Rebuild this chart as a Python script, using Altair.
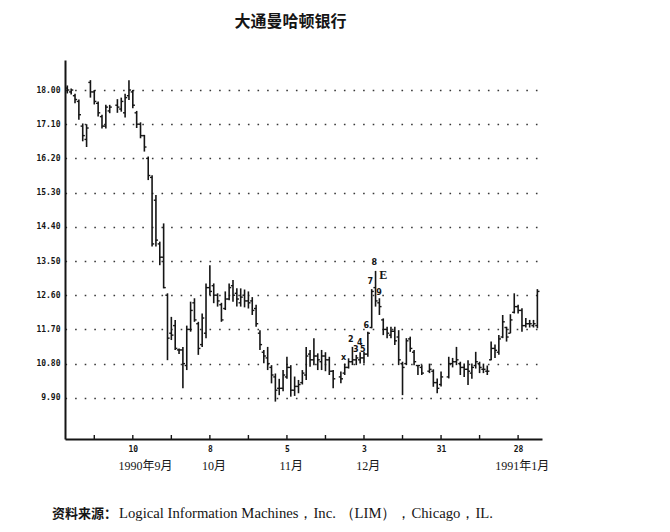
import altair as alt
import pandas as pd

# ---- data (trading-day index; 0 = 27 Aug 1990, ticks every 10 trading days) ----
day = [-7, -6, -5, -4, -3, -2, -1, 0, 1, 2, 3, 4, 6, 7, 8, 9, 10, 11, 12, 13, 14,
       15, 16, 17, 18, 19, 20, 21, 22, 23, 24, 25, 26, 27, 28, 29, 30, 31, 32, 33, 34,
       35, 36, 37, 38, 39, 40, 41, 42, 43, 44, 45, 46, 47, 48, 49, 50, 51, 52, 53, 54,
       55, 56, 57, 58, 59, 60, 61, 62, 64, 65, 66, 67, 68, 69, 70, 71, 72, 73, 74, 75,
       76, 77, 78, 79, 80, 81, 82, 83, 84, 85, 87, 88, 89, 90, 92, 93, 94, 95, 96, 97,
       98, 99, 100, 101, 102, 103, 104, 105, 106, 107, 108, 109, 110, 111, 112, 113, 114, 115]
high = [18.12, 18.04, 17.90, 17.75, 17.12, 17.10, 18.26, 18.00, 17.70, 17.35, 17.61, 17.61, 17.76, 17.80, 17.90, 18.26, 18.00, 17.45, 17.15, 16.82, 16.25,
        15.76, 15.24, 14.01, 14.49, 12.65, 12.03, 11.95, 11.20, 11.24, 11.80, 12.43, 12.52, 11.90, 12.12, 12.91, 13.39, 12.91, 12.65, 12.40, 12.70,
        12.91, 13.00, 12.78, 12.78, 12.75, 12.70, 12.55, 12.35, 11.68, 11.16, 11.24, 10.76, 10.54, 10.40, 10.63, 10.98, 10.76, 10.46, 10.37, 10.63,
        11.24, 11.16, 11.47, 11.07, 11.16, 11.10, 10.98, 10.63, 10.59, 10.80, 10.94, 11.24, 11.03, 11.10, 11.11, 11.64, 12.76, 13.24, 12.52, 11.99,
        11.77, 11.77, 11.77, 11.68, 10.85, 11.47, 11.51, 11.16, 10.76, 10.76, 10.80, 10.65, 10.41, 10.59, 10.98, 10.95, 11.24, 10.85, 10.80, 10.89,
        10.80, 11.11, 10.85, 10.80, 10.75, 11.38, 11.30, 11.55, 12.08, 11.77, 12.10, 12.65, 12.35, 12.26, 12.00, 11.95, 11.95, 12.76]
low = [17.91, 17.88, 17.65, 17.22, 16.65, 16.50, 17.80, 17.62, 17.30, 16.99, 16.99, 17.39, 17.40, 17.43, 17.28, 17.74, 17.52, 17.00, 16.73, 16.38, 15.63,
       13.88, 13.88, 13.39, 12.78, 10.89, 11.42, 11.16, 11.05, 10.15, 10.63, 11.64, 11.90, 11.03, 11.24, 11.47, 12.60, 12.39, 12.30, 11.90, 12.21,
       12.47, 12.43, 12.30, 12.30, 12.28, 12.25, 12.08, 11.77, 11.16, 10.81, 10.63, 10.28, 9.80, 9.97, 10.07, 10.40, 9.93, 9.95, 10.02, 10.25,
       10.37, 10.72, 10.76, 10.63, 10.63, 10.60, 10.50, 10.15, 10.28, 10.50, 10.67, 10.76, 10.76, 10.80, 10.80, 10.98, 11.73, 12.30, 12.08, 11.55,
       11.47, 11.47, 11.29, 10.76, 9.97, 10.76, 11.11, 10.76, 10.50, 10.50, 10.55, 10.19, 10.02, 10.20, 10.41, 10.70, 10.76, 10.50, 10.45, 10.24,
       10.40, 10.67, 10.55, 10.55, 10.50, 10.89, 10.95, 11.03, 11.47, 11.38, 11.60, 12.12, 12.12, 11.64, 11.75, 11.75, 11.75, 11.73]
open_ = [18.05, 17.95, 17.85, 17.70, 17.05, 16.70, 18.20, 17.95, 17.65, 17.30, 17.05, 17.45, 17.60, 17.50, 17.40, 17.85, 17.95, 17.40, 17.10, 16.80, 16.20,
         15.70, 15.10, 13.95, 13.60, 12.60, 11.60, 11.80, 11.16, 11.16, 10.75, 11.70, 12.40, 11.85, 11.30, 11.60, 12.80, 12.85, 12.60, 12.35, 12.25,
         12.50, 12.85, 12.65, 12.40, 12.60, 12.45, 12.45, 12.25, 11.60, 11.10, 10.95, 10.70, 10.45, 10.15, 10.15, 10.45, 10.70, 10.10, 10.20, 10.30,
         10.50, 11.05, 10.90, 11.00, 10.85, 11.00, 10.90, 10.60, 10.45, 10.55, 10.70, 10.85, 10.90, 10.90, 10.95, 11.05, 11.75, 12.80, 12.40, 11.95,
         11.70, 11.55, 11.65, 11.50, 10.80, 10.80, 11.45, 11.10, 10.75, 10.70, 10.60, 10.60, 10.30, 10.25, 10.45, 10.80, 10.85, 10.80, 10.70, 10.65,
         10.55, 10.75, 10.80, 10.65, 10.60, 10.90, 11.20, 11.10, 11.50, 11.75, 11.60, 12.15, 12.30, 12.20, 11.80, 11.85, 11.80, 11.80]
close = [18.00, 18.00, 17.75, 17.35, 16.80, 17.00, 17.95, 17.70, 17.40, 17.05, 17.55, 17.55, 17.55, 17.70, 17.80, 18.00, 17.60, 17.10, 16.80, 16.50, 15.75,
         13.95, 14.05, 13.60, 12.80, 11.47, 11.55, 11.20, 11.16, 10.80, 11.70, 12.20, 11.95, 11.20, 12.00, 12.80, 12.70, 12.60, 12.45, 11.95, 12.50,
         12.80, 12.60, 12.50, 12.55, 12.45, 12.40, 12.20, 11.85, 11.30, 11.00, 10.80, 10.50, 10.10, 10.15, 10.50, 10.70, 10.10, 10.20, 10.25, 10.55,
         11.00, 10.90, 11.00, 10.90, 11.00, 10.90, 10.60, 10.40, 10.40, 10.70, 10.85, 10.90, 10.95, 10.95, 11.05, 11.60, 12.70, 12.45, 12.30, 11.70,
         11.60, 11.65, 11.40, 10.90, 10.70, 11.40, 11.20, 10.85, 10.75, 10.55, 10.65, 10.30, 10.15, 10.45, 10.80, 10.85, 10.90, 10.70, 10.65, 10.60,
         10.70, 10.85, 10.70, 10.65, 10.60, 11.20, 11.15, 11.45, 11.90, 11.50, 11.95, 12.30, 12.20, 11.80, 11.85, 11.85, 11.85, 12.70]

y_ticks = [9.90, 10.80, 11.70, 12.60, 13.50, 14.40, 15.30, 16.20, 17.10, 18.00]
x_tick_days = [0, 10, 20, 30, 40, 50, 60, 70, 80, 90, 100, 110]
label_days = [10, 30, 50, 70, 90, 110]
label_text = ["10", "8", "5", "3", "31", "28"]
month_days = [10, 30, 50, 70, 110]
month_text = ["1990年9月", "10月", "11月", "12月", "1991年1月"]

wave_text = ["x", "2", "3", "4", "5", "6", "7", "8", "9"]
wave_day = [64.7, 66.6, 67.9, 68.9, 69.7, 70.6, 71.6, 72.7, 73.9]
wave_price = [10.94, 11.42, 11.16, 11.35, 11.16, 11.79, 12.94, 13.44, 12.67]
e_text = ["E"]
e_day = [75.0]
e_price = [13.13]

title_text = "大通曼哈顿银行"
source_cn = "资料来源："
source_en = "Logical Information Machines，Inc. （LIM），Chicago，IL."

# ---- chart ----
W, H = 477, 379
df = pd.DataFrame(dict(day=day, high=high, low=low, open=open_, close=close))

xs = alt.Scale(domain=[-7.6, 116.2], nice=False, zero=False)
ys = alt.Scale(domain=[8.816, 18.79], nice=False, zero=False)

label_expr = " : ".join(
    f"datum.value == {d} ? '{t}'" for d, t in zip(label_days, label_text)
) + " : ''"

ink = "#151515"
mono = "DejaVu Sans Mono"

base = alt.Chart(df)

bars = base.mark_rule(color=ink, strokeWidth=1.6).encode(
    x=alt.X("day:Q", scale=xs, title=None,
            axis=alt.Axis(values=label_days, labelExpr=label_expr, ticks=False,
                          grid=False, domainColor=ink, domainWidth=2,
                          labelFont=mono, labelFontWeight="bold", labelFontSize=8,
                          labelColor=ink, labelPadding=6, labelFlush=False)),
    y=alt.Y("low:Q", scale=ys, title=None,
            axis=alt.Axis(values=y_ticks, format=".2f", ticks=False, grid=True,
                          gridDash=[1.6, 8], gridColor=ink, gridWidth=1.4, gridOpacity=0.85,
                          domainColor=ink, domainWidth=2,
                          labelFont=mono, labelFontWeight="bold", labelFontSize=8,
                          labelColor=ink, labelPadding=5)),
    y2="high:Q",
)

close_ticks = base.transform_calculate(xr="datum.day + 0.55").mark_rule(
    color=ink, strokeWidth=1.4).encode(x=alt.X("day:Q", scale=xs), x2="xr:Q",
                                       y=alt.Y("close:Q", scale=ys))
open_ticks = base.transform_calculate(xl="datum.day - 0.55").mark_rule(
    color=ink, strokeWidth=1.4).encode(x=alt.X("xl:Q", scale=xs), x2="day:Q",
                                       y=alt.Y("open:Q", scale=ys))

xt = alt.Chart(pd.DataFrame({"d": x_tick_days})).mark_rule(color=ink, strokeWidth=1.4).encode(
    x=alt.X("d:Q", scale=xs), y=alt.value(H), y2=alt.value(H - 4))

months = alt.Chart(pd.DataFrame({"d": month_days, "t": month_text})).transform_calculate(
    xm="datum.d + (datum.d == 10 ? 3.3 : 1.1)"
).mark_text(font="Liberation Serif, Noto Sans CJK SC", fontSize=12, color=ink,
            baseline="middle").encode(
    x=alt.X("xm:Q", scale=xs), y=alt.value(H + 27), text="t:N")

waves = alt.Chart(pd.DataFrame({"d": wave_day, "p": wave_price, "t": wave_text})).mark_text(
    font="DejaVu Sans", fontSize=8, fontWeight="bold", color=ink, baseline="middle"
).encode(x=alt.X("d:Q", scale=xs), y=alt.Y("p:Q", scale=ys), text="t:N")

e_lab = alt.Chart(pd.DataFrame({"d": e_day, "p": e_price, "t": e_text})).mark_text(
    font="Liberation Serif", fontSize=12, fontWeight="bold", color=ink, baseline="middle"
).encode(x=alt.X("d:Q", scale=xs), y=alt.Y("p:Q", scale=ys), text="t:N")

src_cn = alt.Chart(pd.DataFrame({"t": [source_cn]})).mark_text(
    font="Noto Sans CJK SC", fontSize=13, fontWeight="bold", color=ink,
    align="left", baseline="middle").encode(x=alt.value(-13), y=alt.value(H + 75), text="t:N")
src_en = alt.Chart(pd.DataFrame({"t": [source_en]})).mark_text(
    font="Liberation Serif", fontSize=14.7, color=ink,
    align="left", baseline="middle").encode(x=alt.value(54), y=alt.value(H + 75), text="t:N")

chart = alt.layer(bars, close_ticks, open_ticks, xt, months, waves, e_lab, src_cn, src_en).properties(
    width=W, height=H,
    title=alt.TitleParams(title_text, font="Noto Sans CJK SC", fontSize=16, fontWeight="bold",
                          color=ink, offset=30, dx=-13, anchor="middle"),
    padding={"left": 57, "top": 52, "right": 40, "bottom": 90},
    autosize=alt.AutoSizeParams(type="none"),
).configure(background="white", view=alt.ViewConfig(stroke=None))

chart.save("out.html", embed_options={"renderer": "svg", "actions": False})
